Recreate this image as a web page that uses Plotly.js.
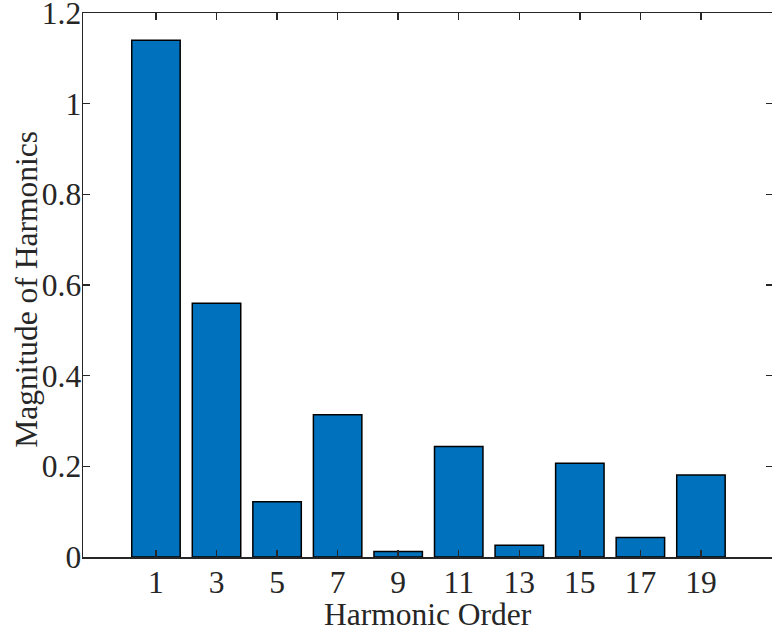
<!DOCTYPE html>
<html>
<head>
<meta charset="utf-8">
<script src="https://cdn.plot.ly/plotly-3.0.1.min.js"></script>
<style>
html, body { margin: 0; padding: 0; overflow: hidden; background: #fff; }
#chart { width: 776px; height: 629px; }
</style>
</head>
<body>
<div id="chart"></div>
<script>
const harmonicOrder = [1, 3, 5, 7, 9, 11, 13, 15, 17, 19];
const magnitude = [1.140, 0.560, 0.122, 0.314, 0.012, 0.244, 0.026, 0.207, 0.043, 0.181];
const yTickValues = [0, 0.2, 0.4, 0.6, 0.8, 1, 1.2];
const yTickLabels = ['0', '0.2', '0.4', '0.6', '0.8', '1', '1.2'];
const xTitle = 'Harmonic Order';
const yTitle = 'Magnitude of Harmonics';

const axisColor = '#262626';
const fontFamily = 'Liberation Serif';
const fontSize = 31.5;

const trace = {
  type: 'bar',
  x: harmonicOrder,
  y: magnitude,
  marker: { color: '#0072BD', line: { color: '#000000', width: 1.5 } },
  hoverinfo: 'x+y'
};

const layout = {
  width: 776,
  height: 629,
  margin: { l: 83, r: 3, t: 13, b: 72 },
  paper_bgcolor: '#ffffff',
  plot_bgcolor: '#ffffff',
  bargap: 0.2,
  showlegend: false,
  font: { family: fontFamily, size: fontSize, color: axisColor },
  xaxis: {
    range: [-1.41, 21.38],
    tickmode: 'array',
    tickvals: harmonicOrder,
    ticktext: harmonicOrder.map(String),
    ticks: 'inside',
    ticklen: 7,
    tickwidth: 1.5,
    tickcolor: axisColor,
    showline: true,
    linecolor: axisColor,
    linewidth: 1.5,
    mirror: 'ticks',
    showgrid: false,
    zeroline: false,
    automargin: false,
    ticklabelstandoff: -3,
    ticklabeloverflow: 'allow',
    tickfont: { family: fontFamily, size: fontSize, color: axisColor }
  },
  yaxis: {
    range: [0, 1.2],
    tickmode: 'array',
    tickvals: yTickValues,
    ticktext: yTickLabels,
    ticks: 'inside',
    ticklen: 7,
    tickwidth: 1.5,
    tickcolor: axisColor,
    showline: true,
    linecolor: axisColor,
    linewidth: 1.5,
    mirror: 'ticks',
    showgrid: false,
    zeroline: false,
    automargin: false,
    ticklabelstandoff: -6,
    ticklabeloverflow: 'allow',
    tickfont: { family: fontFamily, size: fontSize, color: axisColor }
  },
  annotations: [
    {
      text: xTitle, xref: 'paper', yref: 'paper', x: 0.5, y: -0.105,
      xanchor: 'center', yanchor: 'middle', showarrow: false,
      font: { family: fontFamily, size: fontSize, color: axisColor }
    },
    {
      text: yTitle, xref: 'paper', yref: 'paper', x: -0.082, y: 0.492,
      xanchor: 'center', yanchor: 'middle', showarrow: false, textangle: -90,
      font: { family: fontFamily, size: fontSize, color: axisColor }
    }
  ]
};

Plotly.newPlot('chart', [trace], layout, { displayModeBar: false, staticPlot: true });
</script>
</body>
</html>
